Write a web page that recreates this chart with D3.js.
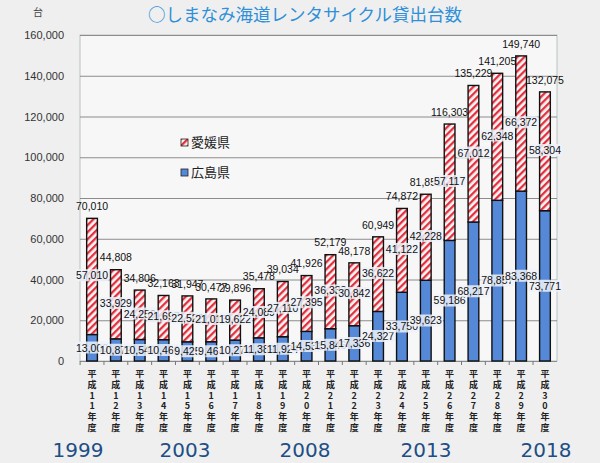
<!DOCTYPE html>
<html>
<head>
<meta charset="utf-8">
<script src="https://cdn.jsdelivr.net/npm/d3@7"></script>
<style>
  body { margin: 0; background: #efefef; }
  svg { display: block; }
</style>
</head>
<body>
<div id="plot"></div>
<script>
const w = 600;
const h = 463;

// 年度 labels (平成11年度 .. 平成30年度)
const years = ["11", "12", "13", "14", "15", "16", "17", "18", "19", "20",
  "21", "22", "23", "24", "25", "26", "27", "28", "29", "30"];
const hiroshima = [13000, 10879, 10547, 10466, 9425, 9464, 10274, 11389, 11924, 14531,
  15846, 17336, 24327, 33750, 39623, 59186, 68217, 78857, 83368, 73771];
const ehime = [57010, 33929, 24259, 21697, 22522, 21013, 19622, 24089, 27110, 27395,
  36333, 30842, 36622, 41122, 42228, 57117, 67012, 62348, 66372, 58304];
const totals = [70010, 44808, 34806, 32163, 31947, 30477, 29896, 35478, 39034, 41926,
  52179, 48178, 60949, 74872, 81851, 116303, 135229, 141205, 149740, 132075];
const yTicks = [0, 20000, 40000, 60000, 80000, 100000, 120000, 140000, 160000];
const westernYears = ["1999", "2003", "2008", "2013", "2018"];
const westernYearX = [78, 185, 305, 426, 546];

const fmt = d3.format(",");

const svg = d3.select("#plot").append("svg")
  .attr("width", w)
  .attr("height", h);

svg.append("rect").attr("width", w).attr("height", h).attr("fill", "#efefef");

const defs = svg.append("defs");
const pat = defs.append("pattern")
  .attr("id", "hatch")
  .attr("patternUnits", "userSpaceOnUse")
  .attr("width", 5)
  .attr("height", 5)
  .attr("patternTransform", "rotate(45)");
pat.append("rect").attr("width", 5).attr("height", 5).attr("fill", "#fbf6f6");
pat.append("rect").attr("width", 2.3).attr("height", 5).attr("fill", "#e2303f");

const xScale = d3.scaleBand()
  .domain(years)
  .range([80, 557])
  .paddingInner(0.55)
  .paddingOuter(0.28);

const yScale = d3.scaleLinear()
  .domain([0, 160000])
  .range([361, 35]);

// plot frame
svg.append("rect")
  .attr("x", 80).attr("y", 35)
  .attr("width", 477).attr("height", 326)
  .attr("fill", "#f7f7f7")
  .attr("stroke", "#b9c2c4")
  .attr("stroke-width", 1);

const yAxis = d3.axisLeft(yScale)
  .tickValues(yTicks)
  .tickFormat(fmt)
  .tickSize(-477)
  .tickPadding(16);

const gy = svg.append("g")
  .attr("transform", "translate(80,0)")
  .call(yAxis);
gy.select(".domain").remove();
gy.selectAll(".tick line").attr("stroke", "#8c8c8c").attr("stroke-width", 1);
gy.selectAll(".tick text")
  .attr("fill", "#333")
  .style("font-family", "Arial, 'Liberation Sans', sans-serif")
  .style("font-size", "11px");

svg.append("text")
  .attr("x", 38).attr("y", 16)
  .attr("text-anchor", "middle")
  .attr("fill", "#444")
  .style("font-family", "'Noto Sans CJK JP', sans-serif")
  .style("font-size", "10px")
  .text("台");

svg.append("text")
  .attr("x", 305).attr("y", 21)
  .attr("text-anchor", "middle")
  .attr("fill", "#2f8fd8")
  .style("font-family", "'Noto Sans CJK JP', sans-serif")
  .style("font-size", "17.5px")
  .text("○しまなみ海道レンタサイクル貸出台数");

// small tick marks below the baseline
svg.append("g").selectAll("line")
  .data(years)
  .enter()
  .append("line")
  .attr("x1", d => xScale(d) - xScale.step() * 0.275)
  .attr("x2", d => xScale(d) - xScale.step() * 0.275)
  .attr("y1", 361).attr("y2", 365)
  .attr("stroke", "#777");

const labelFont = "Arial, 'Liberation Sans', sans-serif";

function label(g, x, y, txt, bg) {
  const t = g.append("text")
    .attr("x", x).attr("y", y)
    .attr("text-anchor", "middle")
    .attr("dominant-baseline", "middle")
    .attr("fill", "#111")
    .style("font-family", labelFont)
    .style("font-size", "10.5px")
    .text(txt);
  if (bg) {
    const b = t.node().getBBox();
    g.insert("rect", () => t.node())
      .attr("x", b.x - 1).attr("y", b.y)
      .attr("width", b.width + 2).attr("height", b.height)
      .attr("rx", 3)
      .attr("fill", "#eef2fa")
      .attr("opacity", 0.85);
  }
}

years.forEach((yr, i) => {
  const g = svg.append("g");
  const x = xScale(yr);
  const bw = xScale.bandwidth();
  const cx = x + bw / 2;

  g.append("rect")
    .attr("x", x).attr("y", yScale(hiroshima[i]))
    .attr("width", bw).attr("height", yScale(0) - yScale(hiroshima[i]))
    .attr("fill", "#5589d8")
    .attr("stroke", "#111").attr("stroke-width", 1.4);

  g.append("rect")
    .attr("x", x).attr("y", yScale(totals[i]))
    .attr("width", bw).attr("height", yScale(hiroshima[i]) - yScale(totals[i]))
    .attr("fill", "url(#hatch)")
    .attr("stroke", "#111").attr("stroke-width", 1.4);

  label(g, cx, yScale(hiroshima[i] / 2) + 1, fmt(hiroshima[i]), true);
  label(g, cx, yScale(hiroshima[i] + ehime[i] / 2), fmt(ehime[i]), true);
  label(g, cx, yScale(totals[i]) - 11, fmt(totals[i]), false);

  // vertical 年度 label
  const chars = ("平成" + yr + "年度").split("");
  g.selectAll(".xl")
    .data(chars)
    .enter()
    .append("text")
    .attr("x", cx)
    .attr("y", (d, j) => 377 + j * 10.8)
    .attr("text-anchor", "middle")
    .attr("fill", "#222")
    .style("font-family", "'Noto Sans CJK JP', sans-serif")
    .style("font-size", "9px")
    .style("font-weight", "bold")
    .text(d => d);
});

// legend
const legendKeys = ["愛媛県", "広島県"];
const legendFill = ["url(#hatch)", "#5589d8"];
const legend = svg.append("g");
legend.selectAll("rect")
  .data(legendKeys)
  .enter()
  .append("rect")
  .attr("x", 181)
  .attr("y", (d, i) => 139 + i * 30)
  .attr("width", 7).attr("height", 7)
  .attr("fill", (d, i) => legendFill[i])
  .attr("stroke", "#222").attr("stroke-width", 0.8);
legend.selectAll("text")
  .data(legendKeys)
  .enter()
  .append("text")
  .attr("x", 191)
  .attr("y", (d, i) => 143 + i * 30)
  .attr("dominant-baseline", "middle")
  .attr("fill", "#222")
  .style("font-family", "'Noto Sans CJK JP', sans-serif")
  .style("font-size", "13px")
  .text(d => d);

// western year labels
svg.append("g").selectAll("text")
  .data(westernYears)
  .enter()
  .append("text")
  .attr("x", (d, i) => westernYearX[i])
  .attr("y", 457)
  .attr("text-anchor", "middle")
  .attr("fill", "#1d4e85")
  .style("font-family", "'DejaVu Sans', sans-serif")
  .style("font-size", "20px")
  .text(d => d);
</script>
</body>
</html>
